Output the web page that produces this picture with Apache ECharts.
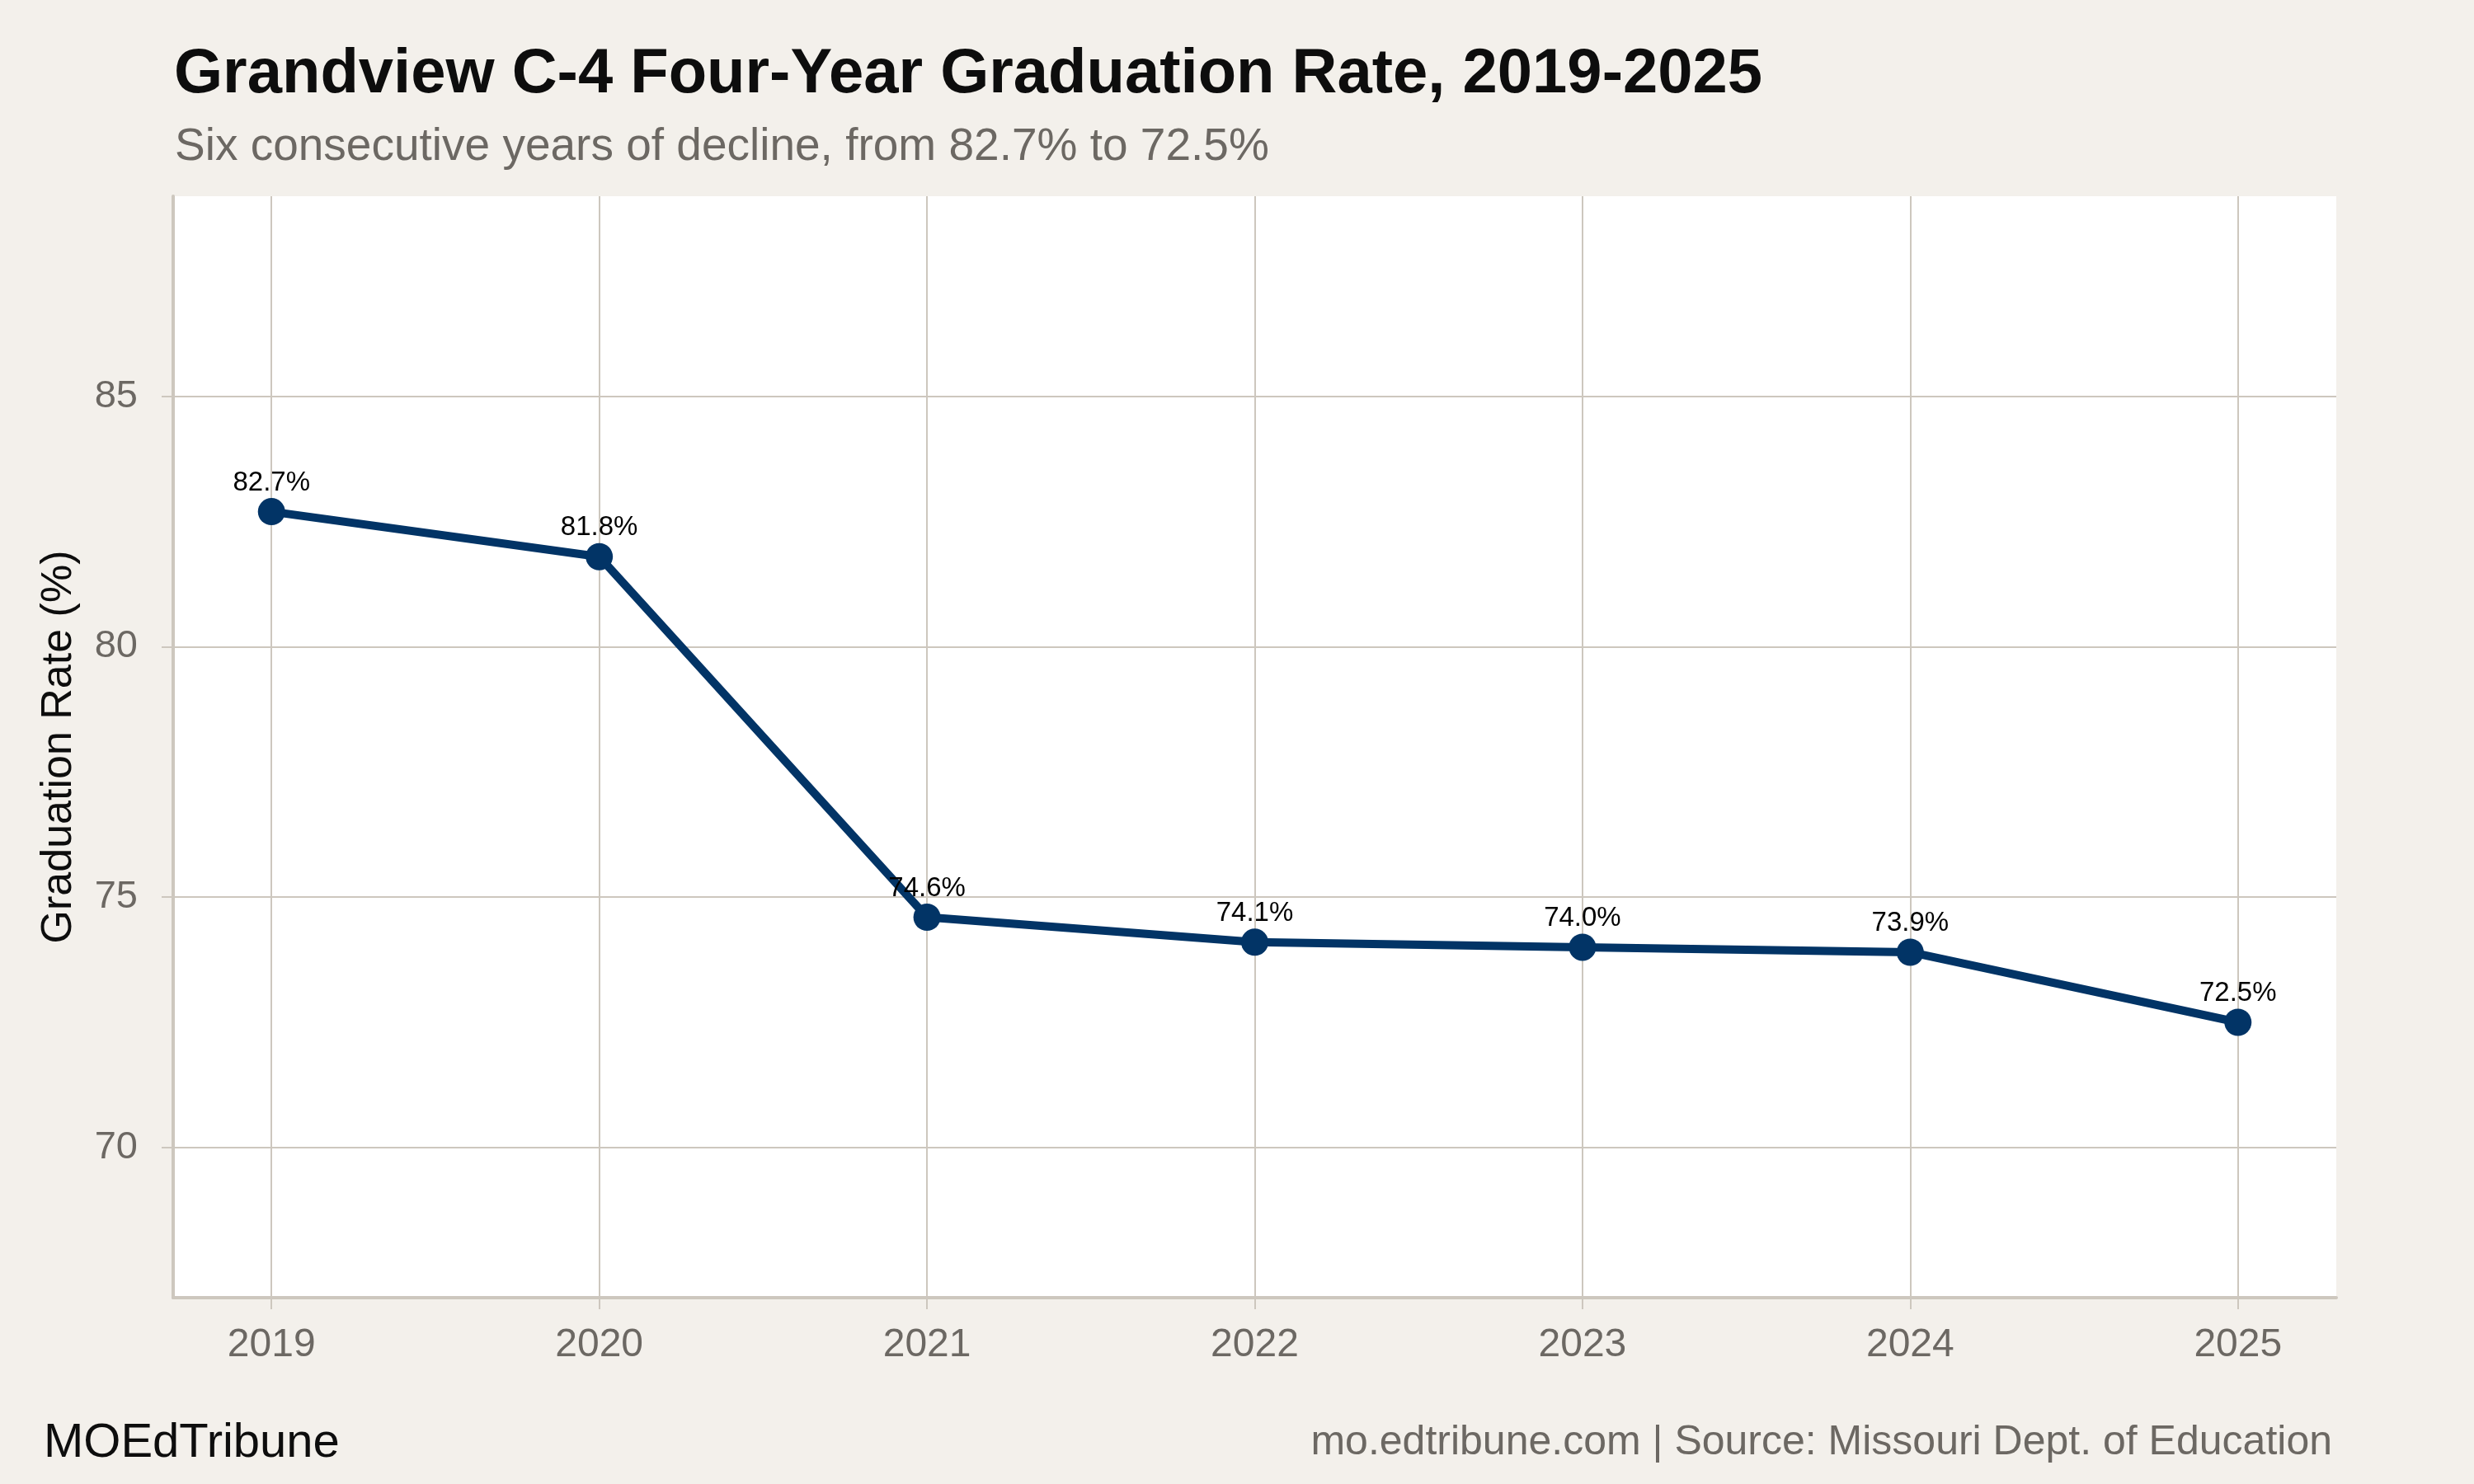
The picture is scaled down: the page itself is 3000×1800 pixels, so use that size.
<!DOCTYPE html>
<html>
<head>
<meta charset="utf-8">
<script src="https://cdn.jsdelivr.net/npm/echarts@6/dist/echarts.min.js"></script>
<style>
  html, body { margin: 0; padding: 0; background: #f3f0eb; }
  #chart { width: 3000px; height: 1800px; }
</style>
</head>
<body>
<div id="chart"></div>
<script>
const years = [2019, 2020, 2021, 2022, 2023, 2024, 2025];
const rates = [82.7, 81.8, 74.6, 74.1, 74.0, 73.9, 72.5];
const yTicks = [70, 75, 80, 85];

const FONT = "'Liberation Sans', Arial, Helvetica, sans-serif";
const GRID = "#cdc7be";

const myChart = echarts.init(document.getElementById("chart"));
const option = {
  backgroundColor: "#f3f0eb",
  textStyle: { fontFamily: FONT },
  title: [
    {
      text: "Grandview C-4 Four-Year Graduation Rate, 2019-2025",
      left: 206,
      top: 48,
      textStyle: { fontSize: 76, fontWeight: "bold", color: "#0d0d0d", fontFamily: FONT },
    },
    {
      text: "Six consecutive years of decline, from 82.7% to 72.5%",
      left: 207,
      top: 146,
      textStyle: { fontSize: 55, fontWeight: "normal", color: "#6c6863", fontFamily: FONT },
    },
    {
      text: "MOEdTribune",
      left: 48,
      top: 1717,
      textStyle: { fontSize: 58, fontWeight: "normal", color: "#0d0d0d", fontFamily: FONT },
    },
    {
      text: "mo.edtribune.com | Source: Missouri Dept. of Education",
      right: 167,
      top: 1720,
      textStyle: { fontSize: 50, fontWeight: "normal", color: "#6c6863", fontFamily: FONT },
    },
  ],
  grid: {
    left: 210,
    right: 167,
    top: 238,
    bottom: 226,
    show: true,
    backgroundColor: "#ffffff",
    borderWidth: 0,
  },
  xAxis: {
    type: "value",
    min: 2018.7,
    max: 2025.3,
    axisLine: { show: true, lineStyle: { color: GRID, width: 4 } },
    axisTick: { show: true, length: 14, lineStyle: { color: GRID, width: 2 }, customValues: years },
    axisLabel: {
      customValues: years,
      formatter: (v) => String(v),
      fontSize: 48,
      color: "#6c6863",
      margin: 34,
      fontFamily: FONT,
    },
    splitLine: { show: true, lineStyle: { color: GRID, width: 2 } },
  },
  yAxis: {
    type: "value",
    min: 67,
    max: 89,
    name: "Graduation Rate (%)",
    nameLocation: "middle",
    nameGap: 112,
    nameTextStyle: { fontSize: 52, color: "#0d0d0d", fontFamily: FONT },
    axisLine: { show: true, lineStyle: { color: GRID, width: 4 } },
    axisTick: { show: true, length: 14, lineStyle: { color: GRID, width: 2 }, customValues: yTicks },
    axisLabel: {
      customValues: yTicks,
      fontSize: 47,
      color: "#6c6863",
      margin: 43,
      fontFamily: FONT,
    },
    splitLine: { show: true, lineStyle: { color: GRID, width: 2 } },
  },
  series: [
    {
      type: "line",
      data: years.map((y, i) => [y, rates[i]]),
      symbol: "circle",
      symbolSize: 33,
      lineStyle: { color: "#023466", width: 10 },
      itemStyle: { color: "#023466" },
      label: {
        show: true,
        position: "top",
        distance: 2,
        fontSize: 33,
        color: "#000000",
        fontFamily: FONT,
        formatter: (p) => p.value[1].toFixed(1) + "%",
      },
      z: 5,
    },
  ],
};

myChart.setOption(option);
window.addEventListener("resize", function () {
  myChart.resize();
});
</script>
</body>
</html>
